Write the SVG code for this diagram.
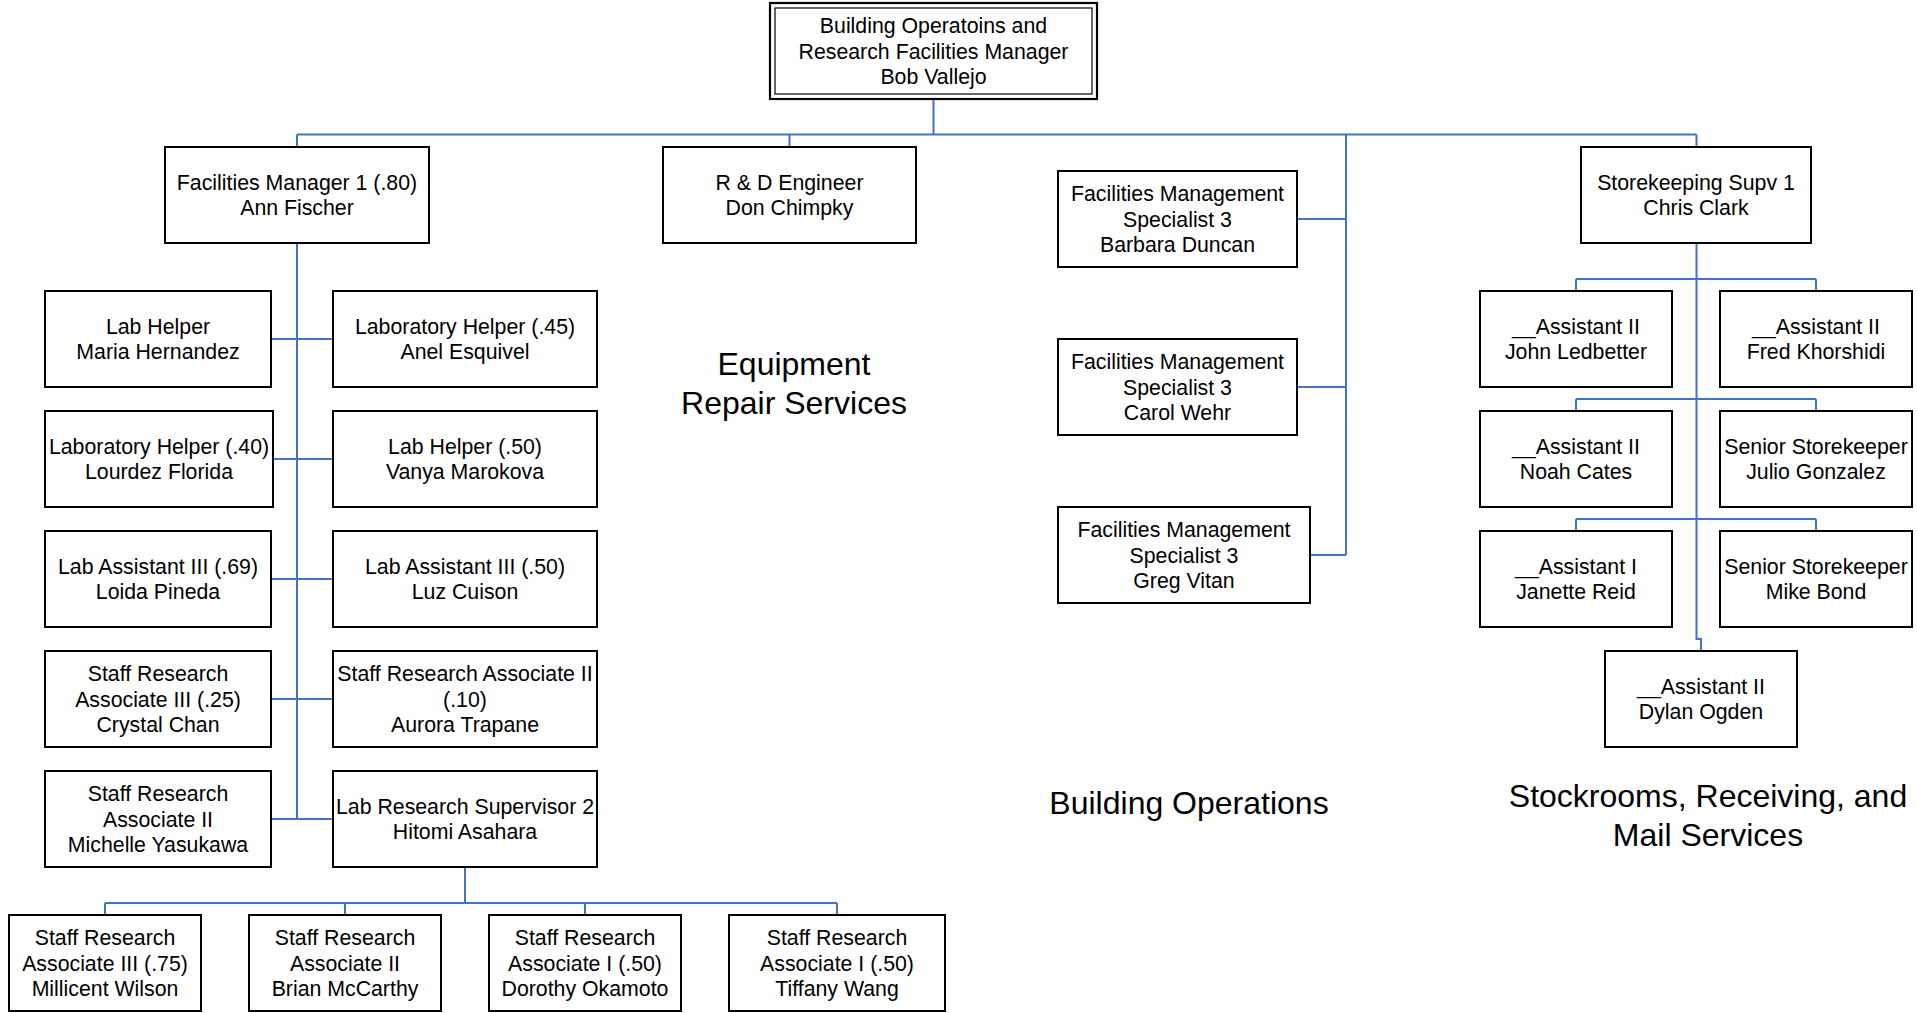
<svg xmlns="http://www.w3.org/2000/svg" width="1917" height="1013" viewBox="0 0 1917 1013">
<style>
  .box { fill: #ffffff; stroke: #000000; stroke-width: 2; }
  .t { font-family: "Liberation Sans", Arial, sans-serif; font-size: 21.3px; fill: #000000; text-anchor: middle; }
  .lbl { font-family: "Liberation Sans", Arial, sans-serif; font-size: 32px; fill: #000000; text-anchor: middle; }
  .c { fill: none; stroke: #4472C4; stroke-width: 2; }
</style>
<rect width="1917" height="1013" fill="#ffffff"/>
<g id="connectors">
  <path class="c" d="M933.5,99 V134.5 M297,134.5 H1696.5 M297,134.5 V147 M789.5,134.5 V147 M1696.5,134.5 V147"/>
  <path class="c" d="M1346,134.5 V555 M1297,219 H1346 M1297,387 H1346 M1310,555 H1346"/>
  <path class="c" d="M297,243 V819 M271,339 H333 M273,459 H333 M271,579 H333 M271,699 H333 M271,819 H333"/>
  <path class="c" d="M465,867 V903 M105,903 H837 M105,903 V915 M345,903 V915 M585,903 V915 M837,903 V915"/>
  <path class="c" d="M1696.5,243 V639 H1701 V651 M1576,279 H1816 M1576,279 V291 M1816,279 V291 M1576,399 H1816 M1576,399 V411 M1816,399 V411 M1576,519 H1816 M1576,519 V531 M1816,519 V531"/>
</g>
<g id="n-top">
  <rect x="770" y="3" width="327" height="96" fill="#ffffff" stroke="#000" stroke-width="2.2"/>
  <rect x="775" y="8" width="317" height="86" fill="none" stroke="#000" stroke-width="1.2"/>
  <text class="t" x="933.5" y="33">Building Operatoins and</text>
  <text class="t" x="933.5" y="58.5">Research Facilities Manager</text>
  <text class="t" x="933.5" y="84">Bob Vallejo</text>
</g>
<g id="n-fm1">
  <rect class="box" x="165" y="147" width="264" height="96"/>
  <text class="t" x="297" y="189.7">Facilities Manager 1 (.80)</text>
  <text class="t" x="297" y="215.3">Ann Fischer</text>
</g>
<g id="n-rd">
  <rect class="box" x="663" y="147" width="253" height="96"/>
  <text class="t" x="789.5" y="189.7">R &amp; D Engineer</text>
  <text class="t" x="789.5" y="215.3">Don Chimpky</text>
</g>
<g id="n-sk">
  <rect class="box" x="1581" y="147" width="230" height="96"/>
  <text class="t" x="1696" y="189.7">Storekeeping Supv 1</text>
  <text class="t" x="1696" y="215.3">Chris Clark</text>
</g>
<g id="n-barbara">
  <rect class="box" x="1058" y="171" width="239" height="96"/>
  <text class="t" x="1177.5" y="201">Facilities Management</text>
  <text class="t" x="1177.5" y="226.5">Specialist 3</text>
  <text class="t" x="1177.5" y="252">Barbara Duncan</text>
</g>
<g id="n-carol">
  <rect class="box" x="1058" y="339" width="239" height="96"/>
  <text class="t" x="1177.5" y="369">Facilities Management</text>
  <text class="t" x="1177.5" y="394.5">Specialist 3</text>
  <text class="t" x="1177.5" y="420">Carol Wehr</text>
</g>
<g id="n-greg">
  <rect class="box" x="1058" y="507" width="252" height="96"/>
  <text class="t" x="1184" y="537">Facilities Management</text>
  <text class="t" x="1184" y="562.5">Specialist 3</text>
  <text class="t" x="1184" y="588">Greg Vitan</text>
</g>
<g id="n-maria">
  <rect class="box" x="45" y="291" width="226" height="96"/>
  <text class="t" x="158" y="333.7">Lab Helper</text>
  <text class="t" x="158" y="359.3">Maria Hernandez</text>
</g>
<g id="n-anel">
  <rect class="box" x="333" y="291" width="264" height="96"/>
  <text class="t" x="465" y="333.7">Laboratory Helper (.45)</text>
  <text class="t" x="465" y="359.3">Anel Esquivel</text>
</g>
<g id="n-lourdez">
  <rect class="box" x="45" y="411" width="228" height="96"/>
  <text class="t" x="159" y="453.7">Laboratory Helper (.40)</text>
  <text class="t" x="159" y="479.3">Lourdez Florida</text>
</g>
<g id="n-vanya">
  <rect class="box" x="333" y="411" width="264" height="96"/>
  <text class="t" x="465" y="453.7">Lab Helper (.50)</text>
  <text class="t" x="465" y="479.3">Vanya Marokova</text>
</g>
<g id="n-loida">
  <rect class="box" x="45" y="531" width="226" height="96"/>
  <text class="t" x="158" y="573.7">Lab Assistant III (.69)</text>
  <text class="t" x="158" y="599.3">Loida Pineda</text>
</g>
<g id="n-luz">
  <rect class="box" x="333" y="531" width="264" height="96"/>
  <text class="t" x="465" y="573.7">Lab Assistant III (.50)</text>
  <text class="t" x="465" y="599.3">Luz Cuison</text>
</g>
<g id="n-crystal">
  <rect class="box" x="45" y="651" width="226" height="96"/>
  <text class="t" x="158" y="681">Staff Research</text>
  <text class="t" x="158" y="706.5">Associate III (.25)</text>
  <text class="t" x="158" y="732">Crystal Chan</text>
</g>
<g id="n-aurora">
  <rect class="box" x="333" y="651" width="264" height="96"/>
  <text class="t" x="465" y="681">Staff Research Associate II</text>
  <text class="t" x="465" y="706.5">(.10)</text>
  <text class="t" x="465" y="732">Aurora Trapane</text>
</g>
<g id="n-michelle">
  <rect class="box" x="45" y="771" width="226" height="96"/>
  <text class="t" x="158" y="801">Staff Research</text>
  <text class="t" x="158" y="826.5">Associate II</text>
  <text class="t" x="158" y="852">Michelle Yasukawa</text>
</g>
<g id="n-hitomi">
  <rect class="box" x="333" y="771" width="264" height="96"/>
  <text class="t" x="465" y="813.7">Lab Research Supervisor 2</text>
  <text class="t" x="465" y="839.3">Hitomi Asahara</text>
</g>
<g id="n-millicent">
  <rect class="box" x="9" y="915" width="192" height="96"/>
  <text class="t" x="105" y="945">Staff Research</text>
  <text class="t" x="105" y="970.5">Associate III (.75)</text>
  <text class="t" x="105" y="996">Millicent Wilson</text>
</g>
<g id="n-brian">
  <rect class="box" x="249" y="915" width="192" height="96"/>
  <text class="t" x="345" y="945">Staff Research</text>
  <text class="t" x="345" y="970.5">Associate II</text>
  <text class="t" x="345" y="996">Brian McCarthy</text>
</g>
<g id="n-dorothy">
  <rect class="box" x="489" y="915" width="192" height="96"/>
  <text class="t" x="585" y="945">Staff Research</text>
  <text class="t" x="585" y="970.5">Associate I (.50)</text>
  <text class="t" x="585" y="996">Dorothy Okamoto</text>
</g>
<g id="n-tiffany">
  <rect class="box" x="729" y="915" width="216" height="96"/>
  <text class="t" x="837" y="945">Staff Research</text>
  <text class="t" x="837" y="970.5">Associate I (.50)</text>
  <text class="t" x="837" y="996">Tiffany Wang</text>
</g>
<g id="n-john">
  <rect class="box" x="1480" y="291" width="192" height="96"/>
  <text class="t" x="1576" y="333.7">__Assistant II</text>
  <text class="t" x="1576" y="359.3">John Ledbetter</text>
</g>
<g id="n-fred">
  <rect class="box" x="1720" y="291" width="192" height="96"/>
  <text class="t" x="1816" y="333.7">__Assistant II</text>
  <text class="t" x="1816" y="359.3">Fred Khorshidi</text>
</g>
<g id="n-noah">
  <rect class="box" x="1480" y="411" width="192" height="96"/>
  <text class="t" x="1576" y="453.7">__Assistant II</text>
  <text class="t" x="1576" y="479.3">Noah Cates</text>
</g>
<g id="n-julio">
  <rect class="box" x="1720" y="411" width="192" height="96"/>
  <text class="t" x="1816" y="453.7">Senior Storekeeper</text>
  <text class="t" x="1816" y="479.3">Julio Gonzalez</text>
</g>
<g id="n-janette">
  <rect class="box" x="1480" y="531" width="192" height="96"/>
  <text class="t" x="1576" y="573.7">__Assistant I</text>
  <text class="t" x="1576" y="599.3">Janette Reid</text>
</g>
<g id="n-mike">
  <rect class="box" x="1720" y="531" width="192" height="96"/>
  <text class="t" x="1816" y="573.7">Senior Storekeeper</text>
  <text class="t" x="1816" y="599.3">Mike Bond</text>
</g>
<g id="n-dylan">
  <rect class="box" x="1605" y="651" width="192" height="96"/>
  <text class="t" x="1701" y="693.7">__Assistant II</text>
  <text class="t" x="1701" y="719.3">Dylan Ogden</text>
</g>
<g id="labels">
  <text class="lbl" x="794" y="375">Equipment</text>
  <text class="lbl" x="794" y="414">Repair Services</text>
  <text class="lbl" x="1189" y="814">Building Operations</text>
  <text class="lbl" x="1708" y="807">Stockrooms, Receiving, and</text>
  <text class="lbl" x="1708" y="846">Mail Services</text>
</g>
</svg>
